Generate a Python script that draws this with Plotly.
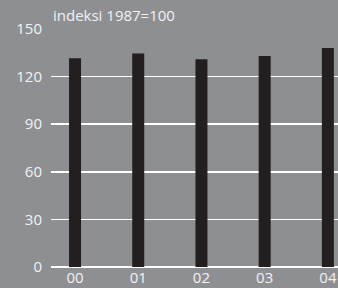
import plotly.graph_objects as go

categories = ["00", "01", "02", "03", "04"]
values = [131.5, 134.5, 131, 133, 138]
y_ticks = [0, 30, 60, 90, 120, 150]
title_text = "indeksi 1987=100"

BG = "#8e8f93"
TXT = "#f2f2f2"
FONT = "Liberation Sans Narrow, Arial Narrow, Open Sans, sans-serif"

fig = go.Figure(go.Bar(
    x=list(range(len(categories))),
    y=values,
    width=0.19,
    marker=dict(color="#231f20", line=dict(width=0)),
    hoverinfo="skip",
))

fig.update_layout(
    template="none",
    width=338, height=288,
    margin=dict(l=51, r=0, t=29, b=21, autoexpand=False),
    paper_bgcolor=BG, plot_bgcolor=BG,
    showlegend=False,
    font=dict(family=FONT, size=15, color=TXT),
    xaxis=dict(
        automargin=False,
        range=[-0.38, 4.16],
        tickmode="array",
        tickvals=list(range(len(categories))),
        ticktext=categories,
        showgrid=False, zeroline=False, showline=False,
        ticks="", ticklen=0,
        tickfont=dict(family=FONT, size=15, color=TXT),
    ),
    yaxis=dict(
        automargin=False,
        range=[0, 150],
        tickmode="array",
        tickvals=y_ticks,
        ticktext=[str(v) for v in y_ticks],
        showgrid=True, gridcolor="#ffffff", gridwidth=1.5,
        zeroline=True, zerolinecolor="#ffffff", zerolinewidth=1.5,
        showline=False, ticks="",
        ticklabelstandoff=8,
        tickfont=dict(family=FONT, size=15, color=TXT),
    ),
    annotations=[dict(
        text=title_text, xref="paper", yref="paper",
        x=0, y=1, xanchor="left", yanchor="bottom",
        yshift=2, showarrow=False,
        font=dict(family=FONT, size=15, color=TXT),
    )],
)

fig.write_html(
    "out.html",
    config={"displayModeBar": False, "staticPlot": True},
    post_script="document.body.style.margin='0';document.body.style.overflow='hidden';document.body.style.background='" + BG + "';",
)
